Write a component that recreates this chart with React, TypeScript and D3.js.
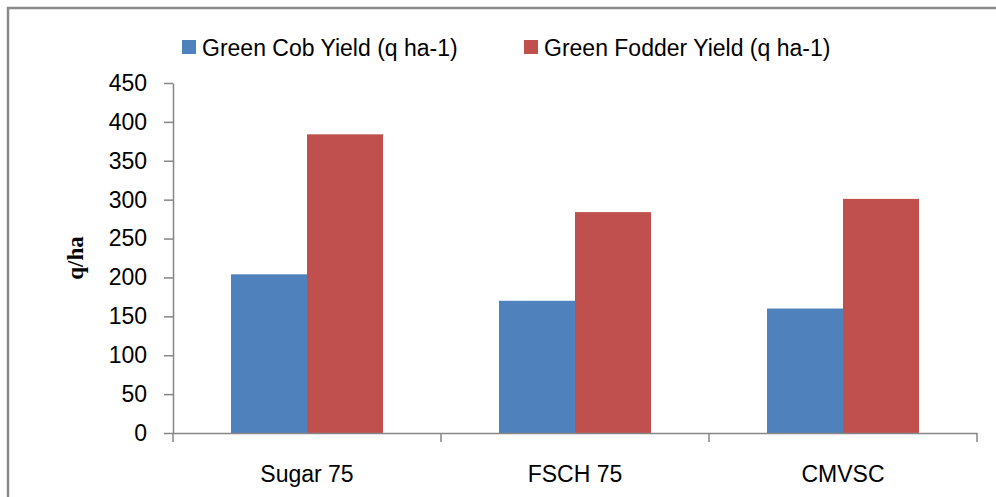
import * as d3 from 'd3';
import React, { useEffect, useRef } from 'react';

const categories = ['Sugar 75', 'FSCH 75', 'CMVSC'];
const seriesNames = ['Green Cob Yield (q ha-1)', 'Green Fodder Yield (q ha-1)'];
const cobYield = [204, 170, 160];
const fodderYield = [384, 284, 301];
const yTicks = [0, 50, 100, 150, 200, 250, 300, 350, 400, 450];
const colors = ['#4F81BD', '#C0504D'];

const App: React.FC = () => {
    const svgRef = useRef<SVGSVGElement | null>(null);

    useEffect(() => {
        const width = 996;
        const height = 497;
        const margin = { top: 83, right: 19, bottom: 64, left: 173 };
        const font = "'Liberation Sans', Arial, sans-serif";
        const axisColor = '#868686';

        d3.select(svgRef.current).selectAll('*').remove();

        const svg = d3
            .select(svgRef.current)
            .attr('width', width)
            .attr('height', height);

        svg.append('rect')
            .attr('width', width)
            .attr('height', height)
            .attr('fill', '#fff');

        // outer chart border (runs off the right and bottom)
        svg.append('rect')
            .attr('x', 8)
            .attr('y', 8)
            .attr('width', width)
            .attr('height', height)
            .attr('fill', 'none')
            .attr('stroke', '#8a8a8a')
            .attr('stroke-width', 2.5);

        const data = categories.map((c, i) => ({ category: c, values: [cobYield[i], fodderYield[i]] }));

        const x0 = d3
            .scaleBand()
            .domain(categories)
            .range([margin.left, width - margin.right])
            .padding(0);

        const x1 = d3
            .scaleBand()
            .domain(seriesNames)
            .range([0, x0.bandwidth()])
            .paddingInner(0)
            .paddingOuter(0.763);

        const y = d3
            .scaleLinear()
            .domain([0, 450])
            .range([height - margin.bottom, margin.top]);

        // bars
        const groups = svg.selectAll('.group')
            .data(data)
            .enter()
            .append('g')
            .attr('class', 'group')
            .attr('transform', d => `translate(${x0(d.category)},0)`);

        groups.selectAll('rect')
            .data(d => d.values.map((v, i) => ({ key: seriesNames[i], value: v, i })))
            .enter()
            .append('rect')
            .attr('x', d => x1(d.key)!)
            .attr('y', d => y(d.value))
            .attr('width', x1.bandwidth())
            .attr('height', d => y(0) - y(d.value))
            .attr('fill', d => colors[d.i]);

        // y axis
        const yAxis = svg.append('g')
            .attr('transform', `translate(${margin.left},0)`)
            .call(d3.axisLeft(y).tickValues(yTicks).tickSize(9).tickPadding(17).tickSizeOuter(0));
        yAxis.select('.domain').attr('stroke', axisColor).attr('stroke-width', 1.5);
        yAxis.selectAll('.tick line').attr('stroke', axisColor).attr('stroke-width', 1.5);
        yAxis.selectAll('.tick text')
            .attr('fill', '#000')
            .style('font-family', font)
            .style('font-size', '23px');

        // x axis
        const xAxis = svg.append('g')
            .attr('transform', `translate(0,${y(0)})`)
            .call(d3.axisBottom(x0).tickSize(0).tickSizeOuter(0).tickFormat(() => ''));
        xAxis.select('.domain').attr('stroke', axisColor).attr('stroke-width', 1.5);
        xAxis.selectAll('.tick').remove();

        // category boundary ticks
        const bounds = [...categories.map(c => x0(c)!), x0.range()[1]];
        svg.selectAll('.xtick')
            .data(bounds)
            .enter()
            .append('line')
            .attr('class', 'xtick')
            .attr('x1', d => d)
            .attr('x2', d => d)
            .attr('y1', y(0))
            .attr('y2', y(0) + 9)
            .attr('stroke', axisColor)
            .attr('stroke-width', 1.5);

        svg.selectAll('.xlabel')
            .data(categories)
            .enter()
            .append('text')
            .attr('class', 'xlabel')
            .attr('x', d => x0(d)! + x0.bandwidth() / 2)
            .attr('y', 482)
            .attr('text-anchor', 'middle')
            .style('font-family', font)
            .style('font-size', '23px')
            .text(d => d);

        // y axis title
        svg.append('text')
            .attr('transform', 'translate(83,258) rotate(-90)')
            .attr('text-anchor', 'middle')
            .style('font-family', "'Liberation Serif', 'Times New Roman', serif")
            .style('font-weight', 'bold')
            .style('font-size', '23px')
            .text('q/ha');

        // legend
        const legendX = [182, 524];
        const legend = svg.selectAll('.legend')
            .data(seriesNames)
            .enter()
            .append('g')
            .attr('class', 'legend')
            .attr('transform', (d, i) => `translate(${legendX[i]},40)`);

        legend.append('rect')
            .attr('width', 14)
            .attr('height', 14)
            .attr('fill', (d, i) => colors[i]);

        legend.append('text')
            .attr('x', 20)
            .attr('y', 16)
            .style('font-family', font)
            .style('font-size', '23px')
            .text(d => d);
    }, []);

    return <svg ref={svgRef} style={{ position: 'absolute', left: 0, top: 0, display: 'block' }}></svg>;
};

export default App;
